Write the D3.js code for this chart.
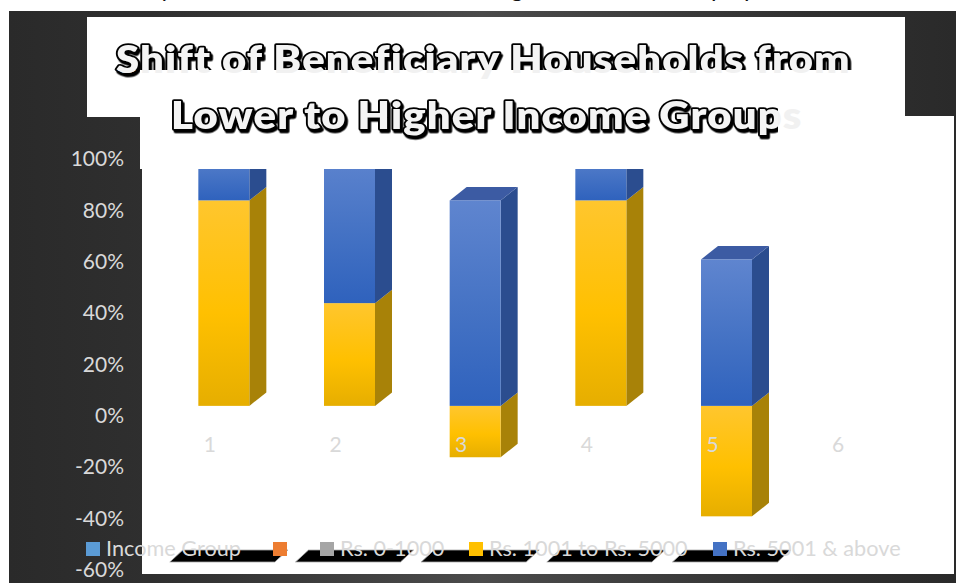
<!DOCTYPE html>
<html>
<head>
<meta charset="utf-8">
<script src="https://cdnjs.cloudflare.com/ajax/libs/d3/7.8.5/d3.min.js"></script>
<style>
html,body{margin:0;padding:0;background:#fff;overflow:hidden}
svg{display:block}
text{font-family:Lato,"Open Sans",sans-serif}
</style>
</head>
<body>
<svg id="chart" width="956" height="583"></svg>
<script>
// Chart content
const titleLine1 = "Shift of Beneficiary Households from";
const titleLine2 = "Lower to Higher Income Groups";
const categories = ["1", "2", "3", "4", "5", "6"];
const midIncome = [80, 40, -20, 80, -43, 0];   // Rs. 1001 to Rs. 5000
const highIncome = [20, 60, 80, 20, 57, 0];    // Rs. 5001 & above
const yTicks = [-60, -40, -20, 0, 20, 40, 60, 80, 100];
const legendLabels = ["Income Group", "", "Rs. 0-1000", "Rs. 1001 to Rs. 5000", "Rs. 5001 & above"];
const legendColors = ["#5b9bd5", "#ed7d31", "#a5a5a5", "#ffc000", "#4472c4"];
const legendLeft = [86, 273, 320, 469, 713];
const pageTextTails = ["y", "g", "p", "p"];
const pageTextLeft = [160, 511, 711, 744];

const svg = d3.select("#chart");
const defs = svg.append("defs");

function verticalGradient(id, stops) {
  const g = defs.append("linearGradient").attr("id", id)
    .attr("x1", 0).attr("y1", 0).attr("x2", 0).attr("y2", 1);
  stops.forEach(([o, c]) => g.append("stop").attr("offset", o).attr("stop-color", c));
}
verticalGradient("midFront", [[0, "#ffc62e"], [0.55, "#ffc000"], [1, "#e6ae00"]]);
verticalGradient("highFront", [[0, "#5f85cf"], [0.55, "#4472c4"], [1, "#2f62bd"]]);

const bgGrad = defs.append("linearGradient").attr("id", "backdrop");
[[0, "#2a2a2a"], [0.15, "#2f2f2f"], [0.5, "#4b4b4b"], [0.85, "#303030"], [1, "#2a2a2a"]]
  .forEach(([o, c]) => bgGrad.append("stop").attr("offset", o).attr("stop-color", c));

const titleShadow = defs.append("filter").attr("id", "titleShadow")
  .attr("x", "-5%").attr("y", "-20%").attr("width", "110%").attr("height", "150%");
titleShadow.append("feDropShadow").attr("dx", 1.5).attr("dy", 2.5)
  .attr("stdDeviation", 0.3).attr("flood-color", "#000");

// Clip regions for the layered title
function clipRect(id, x, y, w, h) {
  defs.append("clipPath").attr("id", id).append("rect")
    .attr("x", x).attr("y", y).attr("width", w).attr("height", h);
}
clipRect("line2Visible", 0, 0, 778, 583);
clipRect("line2Tail", 778, 0, 178, 583);
clipRect("line1Tail", 0, 70, 956, 40);

// Slide backdrop and white panels
svg.append("rect").attr("x", 9).attr("y", 11).attr("width", 947).attr("height", 572)
  .attr("fill", "url(#backdrop)");
const panel = (x, y, w, h) => svg.append("rect")
  .attr("x", x).attr("y", y).attr("width", w).attr("height", h).attr("fill", "#fff");
panel(87, 17, 818, 100);
panel(142, 116, 812, 458);

// Fragments of the line of page text above the slide
svg.append("g").selectAll("text").data(pageTextTails).join("text")
  .attr("x", (d, i) => pageTextLeft[i]).attr("y", -3)
  .attr("font-size", 24).attr("fill", "#111").text(d => d);

// Scales
const x = d3.scaleBand().domain(categories).range([147, 901]);
const y = d3.scaleLinear().domain([-60, 100]).range([570, 159]);

// Bars are offset up from the axis by the 3D floor
const floorLift = 10, depthX = 17, depthY = 13.5, barW = 51, barShift = -11.5;

const rows = categories.map((c, i) => ({ c, mid: midIncome[i], high: highIncome[i] }));
const stacked = d3.stack().keys(["mid", "high"]).offset(d3.stackOffsetDiverging)(rows);
const frontFill = { mid: "url(#midFront)", high: "url(#highFront)" };
const sideFill = { mid: "#a88208", high: "#2b4d8f" };
const topFill = { high: "#3c5ba3" };

// Shadow strips along the foot of the chart
const stripW = 105, stripSkew = 13;
svg.append("g").selectAll("path").data(categories.slice(0, 5)).join("path")
  .attr("d", c => {
    const l = x(c) + x.bandwidth() / 2 - 40;
    return `M${l},562L${l + stripSkew},550L${l + stripSkew + stripW},550L${l + stripW},562Z`;
  })
  .attr("fill", "#000").attr("stroke", "#aaa").attr("stroke-width", 0.8);

const barsG = svg.append("g");
stacked.forEach(series => {
  const layer = barsG.append("g");
  series.filter(d => d[0] !== d[1]).forEach(d => {
    const c = d.data.c;
    const x0 = x(c) + x.bandwidth() / 2 + barShift;
    const x1 = x0 + barW;
    const yA = y(Math.max(d[0], d[1])) - floorLift;
    const yB = y(Math.min(d[0], d[1])) - floorLift;
    layer.append("path")
      .attr("d", `M${x1},${yA}L${x1 + depthX},${yA - depthY}L${x1 + depthX},${yB - depthY}L${x1},${yB}Z`)
      .attr("fill", sideFill[series.key]);
    if (series.key === "high") {
      layer.append("path")
        .attr("d", `M${x0},${yA}L${x0 + depthX},${yA - depthY}L${x1 + depthX},${yA - depthY}L${x1},${yA}Z`)
        .attr("fill", topFill.high);
    }
    layer.append("rect")
      .attr("x", x0).attr("y", yA).attr("width", barW).attr("height", yB - yA)
      .attr("fill", frontFill[series.key]);
  });
});

// Title lines are widened horizontally; the first sits beneath the box carrying the second
const titleWiden = 1.1;
const placeTitle = (sel, px, py) => sel.attr("transform", `translate(${px},${py}) scale(${titleWiden},1)`);
const titleStyle = sel => sel
  .attr("font-family", "'Open Sans',sans-serif").attr("font-weight", 800)
  .attr("font-size", 38).attr("letter-spacing", 1.07)
  .attr("fill", "#f4f4f4").attr("stroke", "#000").attr("stroke-width", 3.5)
  .attr("stroke-linejoin", "round").attr("paint-order", "stroke")
  .attr("filter", "url(#titleShadow)");
const ghostStyle = sel => sel
  .attr("font-family", "'Open Sans',sans-serif").attr("font-weight", 800)
  .attr("font-size", 38).attr("letter-spacing", 1.07).attr("fill", "#f1f1f1");

const line1X = 116, line1Y = 73, line2X = 171, line2Y = 129;
svg.append("text").call(placeTitle, line1X, line1Y).call(titleStyle).text(titleLine1);

panel(140, 70, 712, 99);

svg.append("g").attr("clip-path", "url(#line1Tail)")
  .append("text").call(placeTitle, line1X, line1Y).call(ghostStyle).text(titleLine1);
svg.append("g").attr("clip-path", "url(#line2Visible)")
  .append("text").call(placeTitle, line2X, line2Y).call(titleStyle).text(titleLine2);
svg.append("g").attr("clip-path", "url(#line2Tail)")
  .append("text").call(placeTitle, line2X, line2Y).call(ghostStyle).text(titleLine2);

// Value axis
const yAxis = d3.axisLeft(y).tickValues(yTicks).tickSize(0).tickPadding(0)
  .tickFormat(d => d + "%");
svg.append("g").attr("transform", "translate(124,0)").call(yAxis)
  .call(g => g.select(".domain").remove())
  .selectAll("text")
  .attr("fill", "#d9d9d9").attr("font-size", 21).attr("font-family", "Lato,sans-serif");

// Category labels
const xAxis = d3.axisBottom(x).tickSize(0).tickPadding(0);
svg.append("g").attr("transform", "translate(0,437)").call(xAxis)
  .call(g => g.select(".domain").remove())
  .selectAll("text")
  .attr("fill", "#d9d9d9").attr("font-size", 21).attr("font-family", "Lato,sans-serif");

// Legend
const legend = svg.append("g").selectAll("g").data(legendLabels).join("g");
legend.append("rect")
  .attr("x", (d, i) => legendLeft[i]).attr("y", 542).attr("width", 14).attr("height", 14)
  .attr("fill", (d, i) => legendColors[i]);
legend.append("text")
  .attr("x", (d, i) => legendLeft[i] + 20).attr("y", 556)
  .attr("fill", "#d9d9d9").attr("font-size", 21.7).text(d => d);
</script>
</body>
</html>
